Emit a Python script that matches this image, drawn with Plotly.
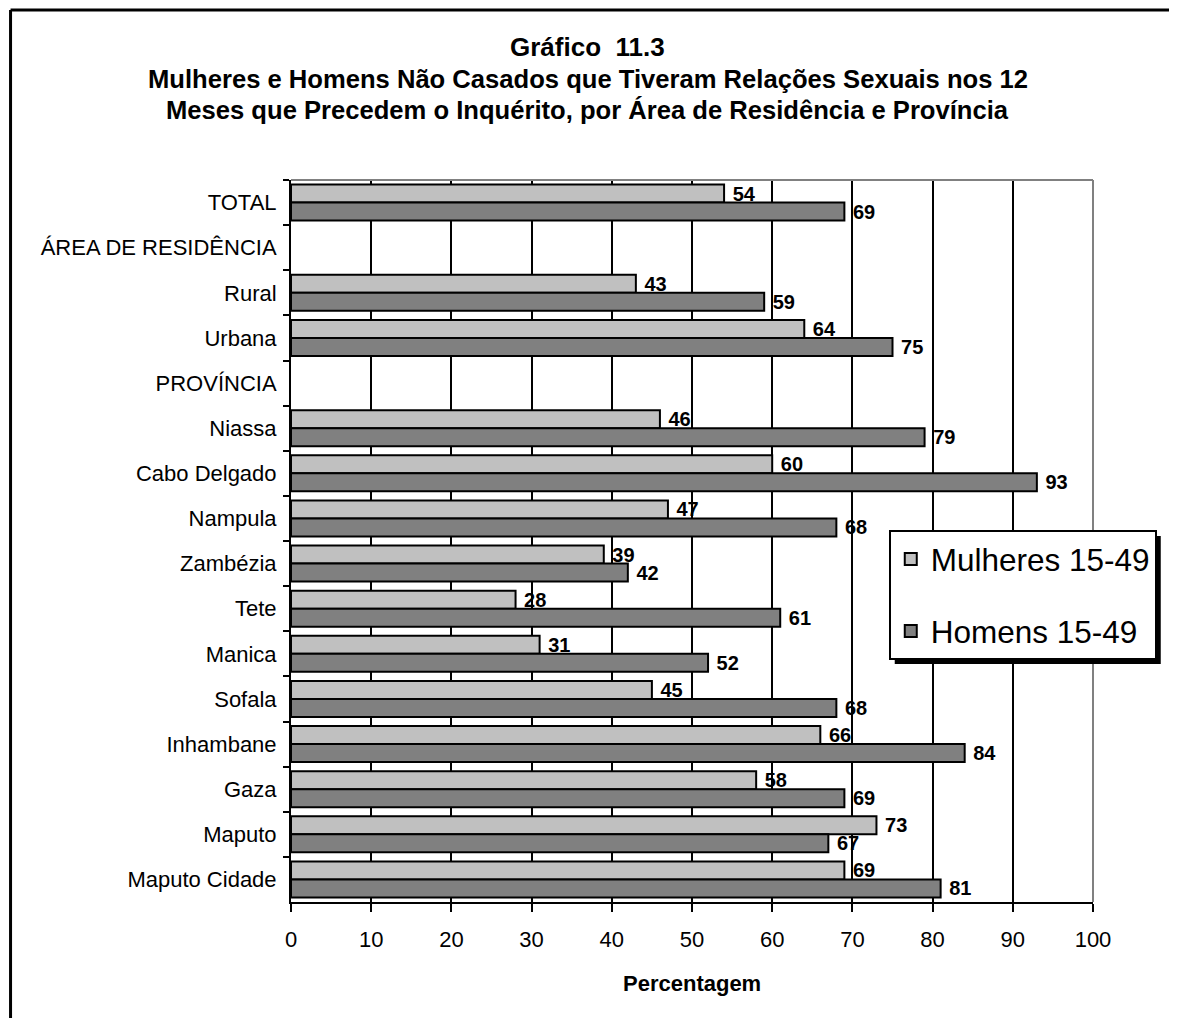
import plotly.graph_objects as go

# ---------------- data ----------------
categories = ["TOTAL", "ÁREA DE RESIDÊNCIA", "Rural", "Urbana", "PROVÍNCIA",
              "Niassa", "Cabo Delgado", "Nampula", "Zambézia", "Tete", "Manica",
              "Sofala", "Inhambane", "Gaza", "Maputo", "Maputo Cidade"]
mulheres = [54, None, 43, 64, None, 46, 60, 47, 39, 28, 31, 45, 66, 58, 73, 69]
homens = [69, None, 59, 75, None, 79, 93, 68, 42, 61, 52, 68, 84, 69, 67, 81]
series_names = ["Mulheres 15-49", "Homens 15-49"]
x_ticks = [0, 10, 20, 30, 40, 50, 60, 70, 80, 90, 100]
title_lines = ["Gráfico  11.3",
               "Mulheres e Homens Não Casados que Tiveram Relações Sexuais nos 12",
               "Meses que Precedem o Inquérito, por Área de Residência e Província"]
x_title = "Percentagem"

# ---------------- layout constants (page pixel coordinates) ----------------
FONT = "Liberation Sans, Arial, Helvetica, sans-serif"
OFF = 8                      # default body margin of the page
W, H = 1177 - 2 * OFF, 1026 - 2 * OFF
L, R, T, B = 291, 1096, 180, 902
PW, PH = R - L, B - T


def px_x(x):
    return (x - L) / PW


def px_y(y):
    return (B - y) / PH


def labels(vals):
    return ["" if v is None else f"<b>\u00a0{v}</b>" for v in vals]


fig = go.Figure()
colors = ["#C0C0C0", "#808080"]
for name, vals, col, grp in zip(series_names, [mulheres, homens], colors, ["a", "b"]):
    fig.add_trace(go.Bar(
        y=categories, x=vals, name=name, orientation="h",
        marker=dict(color=col, line=dict(color="black", width=2)),
        text=labels(vals), textposition="outside", constraintext="none",
        textfont=dict(family=FONT, size=20, color="black"),
        cliponaxis=False, legendgroup=grp,
    ))

fig.update_layout(
    width=W, height=H,
    margin=dict(l=L - OFF, r=W - (R - OFF), t=T - OFF, b=H - (B - OFF), pad=0),
    paper_bgcolor="white", plot_bgcolor="white",
    barmode="group", bargap=0.2, bargroupgap=0,
    font=dict(family=FONT, color="black", size=22),
    showlegend=True,
    legend=dict(x=px_x(891), y=px_y(530), xanchor="left", yanchor="top",
                bgcolor="white", bordercolor="black", borderwidth=2,
                font=dict(family=FONT, size=31.5, color="black"),
                tracegroupgap=28, traceorder="grouped"),
)

fig.update_xaxes(range=[0, 100], tickvals=x_ticks, ticktext=[str(t) for t in x_ticks],
                 showgrid=True, gridcolor="black", gridwidth=2,
                 showline=True, linecolor="black", linewidth=2,
                 ticks="outside", ticklen=8, tickwidth=2, tickcolor="black",
                 tickfont=dict(family=FONT, size=22, color="black"),
                 ticklabelstandoff=9, zeroline=False)
fig.update_yaxes(type="category", autorange="reversed", tickson="boundaries",
                 showgrid=False, showline=True, linecolor="black", linewidth=2,
                 ticks="outside", ticklen=6, tickwidth=2, tickcolor="black",
                 tickfont=dict(family=FONT, size=22, color="black"),
                 ticklabelstandoff=8)

# plot-area gray top/right border
fig.add_shape(type="line", xref="paper", yref="paper", x0=0, x1=1, y0=1, y1=1,
              line=dict(color="#808080", width=2), layer="above")
fig.add_shape(type="line", xref="paper", yref="paper", x0=1, x1=1, y0=0, y1=1,
              line=dict(color="#808080", width=2), layer="above")
# legend shadow
fig.add_shape(type="rect", xref="paper", yref="paper",
              x0=px_x(897), x1=px_x(1164), y0=px_y(664), y1=px_y(536),
              fillcolor="black", line=dict(width=0), layer="above")
# outer frame (top and left edges visible)
fig.add_shape(type="line", xref="paper", yref="paper",
              x0=px_x(9.5), x1=px_x(1200), y0=px_y(10), y1=px_y(10),
              line=dict(color="black", width=3), layer="above")
fig.add_shape(type="line", xref="paper", yref="paper",
              x0=px_x(9.5), x1=px_x(9.5), y0=px_y(10), y1=px_y(1100),
              line=dict(color="black", width=3), layer="above")

# titles
title_sizes = [26, 25.6, 25.6]
title_ys = [47, 79, 110]
for txt, sz, yy in zip(title_lines, title_sizes, title_ys):
    fig.add_annotation(text=f"<b>{txt}</b>", xref="paper", yref="paper",
                       x=px_x(589), y=px_y(yy), xanchor="center", yanchor="middle",
                       showarrow=False, font=dict(family=FONT, size=sz, color="black"))
fig.add_annotation(text=f"<b>{x_title}</b>", xref="paper", yref="paper",
                   x=0.5, y=px_y(983), xanchor="center", yanchor="middle",
                   showarrow=False, font=dict(family=FONT, size=22, color="black"))

fig.write_html("out.html")
